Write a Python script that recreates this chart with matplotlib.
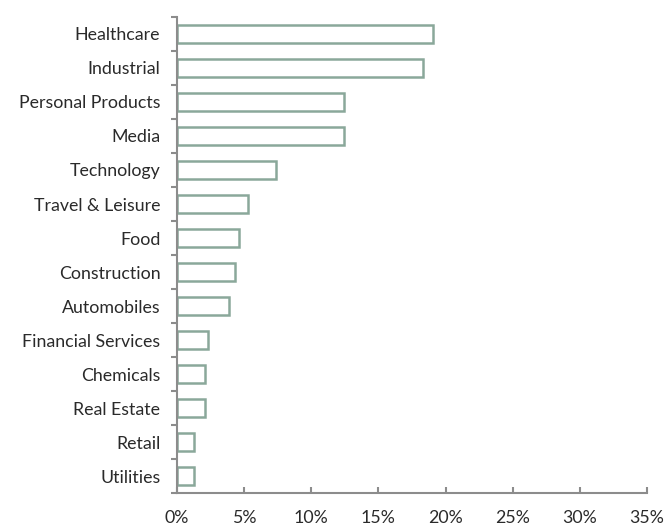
import numpy as np
import matplotlib.pyplot as plt
from matplotlib.ticker import FuncFormatter

sectors = ["Healthcare", "Industrial", "Personal Products", "Media", "Technology",
           "Travel & Leisure", "Food", "Construction", "Automobiles",
           "Financial Services", "Chemicals", "Real Estate", "Retail", "Utilities"]
weights = [19.1, 18.3, 12.4, 12.4, 7.4, 5.3, 4.6, 4.3, 3.9, 2.3, 2.1, 2.1, 1.3, 1.3]

plt.rcParams['font.family'] = ['Lato', 'DejaVu Sans']

fig = plt.figure(figsize=(6.71, 5.26), dpi=100)
ax = fig.add_axes([0.2638, 0.0627, 0.7004, 0.905])

y = np.arange(len(sectors))
ax.barh(y, weights, height=0.55, color='white', edgecolor='#8aa89a', linewidth=1.8)

ax.set_ylim(len(sectors) - 0.5, -0.5)
ax.set_xlim(0, 35)
ax.set_xticks(np.arange(0, 36, 5))
ax.xaxis.set_major_formatter(FuncFormatter(lambda v, p: f"{v:.0f}%"))

ax.set_yticks(y)
ax.set_yticklabels(sectors)
ax.set_yticks(np.arange(-0.5, len(sectors), 1), minor=True)

for s in ['top', 'right']:
    ax.spines[s].set_visible(False)
for s in ['left', 'bottom']:
    ax.spines[s].set_color('#8c8c8c')
    ax.spines[s].set_linewidth(1.5)

ax.tick_params(axis='y', which='major', length=0, pad=12, labelsize=12.8, labelcolor='#2a2a2a')
ax.tick_params(axis='y', which='minor', length=4, width=1.5, color='#8c8c8c', direction='out')
ax.tick_params(axis='x', which='major', length=4, width=1.5, color='#8c8c8c', direction='in',
               labelsize=12.8, labelcolor='#2a2a2a', pad=12)

fig.savefig('out.png', dpi=100)
